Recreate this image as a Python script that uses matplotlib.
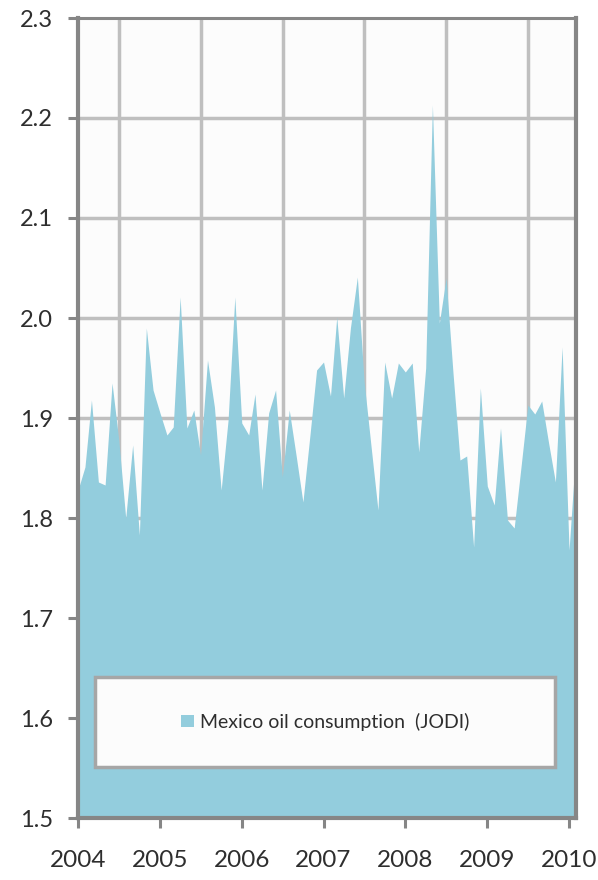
import matplotlib
matplotlib.use('Agg')
import matplotlib.pyplot as plt
import pandas as pd
from matplotlib.patches import Rectangle

plt.rcParams['font.family'] = ['Lato', 'DejaVu Sans']

# ---- data (million barrels/day, monthly, Jan 2004 .. Feb 2010) ----
start_month = '2004-01'
values = [
    1.828, 1.851, 1.918, 1.836, 1.833, 1.935, 1.878, 1.800, 1.873, 1.783, 1.990, 1.928,  # 2004
    1.905, 1.883, 1.891, 2.021, 1.890, 1.908, 1.863, 1.958, 1.911, 1.828, 1.898, 2.021,  # 2005
    1.895, 1.883, 1.924, 1.828, 1.905, 1.928, 1.841, 1.908, 1.862, 1.816, 1.882, 1.948,  # 2006
    1.956, 1.922, 2.001, 1.920, 1.990, 2.041, 1.937, 1.872, 1.808, 1.956, 1.920, 1.955,  # 2007
    1.946, 1.955, 1.866, 1.950, 2.213, 1.995, 2.040, 1.945, 1.858, 1.862, 1.771, 1.930,  # 2008
    1.832, 1.813, 1.890, 1.798, 1.790, 1.852, 1.913, 1.904, 1.917, 1.876, 1.836, 1.971,  # 2009
    1.768, 1.871,                                                                        # 2010
]
year_ticks = [2004, 2005, 2006, 2007, 2008, 2009, 2010]
year_labels = ['2004', '2005', '2006', '2007', '2008', '2009', '2010']
y_ticks = [1.5, 1.6, 1.7, 1.8, 1.9, 2.0, 2.1, 2.2, 2.3]
y_labels = ['1.5', '1.6', '1.7', '1.8', '1.9', '2.0', '2.1', '2.2', '2.3']
series_label = 'Mexico oil consumption  (JODI)'

months = pd.date_range(start_month, periods=len(values), freq='MS')

W, H = 598, 880
fig = plt.figure(figsize=(W / 100, H / 100), dpi=100)
fig.patch.set_facecolor('white')
ax = fig.add_axes([78 / W, 1 - 818 / H, 498 / W, 800 / H])
ax.set_facecolor('#fcfcfc')

area_color = '#93cddd'
grid_color = '#bfbfbf'
axis_color = '#868686'
text_color = '#2e2e2e'

ax.fill_between(months, values, y_ticks[0], color=area_color, lw=0, zorder=3,
                label=series_label)

ax.set_xlim(months[0], months[-1])
ax.set_ylim(y_ticks[0], y_ticks[-1])

# gridlines (under the area)
for yv in y_ticks[1:-1]:
    ax.axhline(yv, color=grid_color, lw=2.5, zorder=1)
for yr in year_ticks[:-1]:
    ax.axvline(pd.Timestamp(f'{yr}-07-02'), color=grid_color, lw=2.5, zorder=1)

ax.set_yticks(y_ticks)
ax.set_yticklabels(y_labels)
ax.set_xticks([pd.Timestamp(f'{yr}-01-01') for yr in year_ticks])
ax.set_xticklabels(year_labels)

ax.tick_params(axis='y', direction='out', length=7, width=2.2, color=axis_color,
               pad=11, labelsize=17, labelcolor=text_color)
ax.tick_params(axis='x', direction='out', length=7, width=2.2, color=axis_color,
               pad=16, labelsize=17.5, labelcolor=text_color)

for side in ['left', 'bottom', 'right']:
    ax.spines[side].set_color(axis_color)
    ax.spines[side].set_linewidth(3)
    ax.spines[side].set_zorder(4)
ax.spines['top'].set_color(axis_color)
ax.spines['top'].set_linewidth(2.2)
ax.spines['top'].set_zorder(4)

# legend box
x0, x1 = (95 - 78) / 498, (555 - 78) / 498
y0, y1 = (818 - 767) / 800, (818 - 677) / 800
box = Rectangle((x0, y0), x1 - x0, y1 - y0, transform=ax.transAxes,
                facecolor='#fcfcfc', edgecolor='#a6a6a6', lw=2.5, zorder=5)
ax.add_patch(box)
leg = ax.legend(loc='center', bbox_to_anchor=((x0 + x1) / 2, (y0 + y1) / 2),
                bbox_transform=ax.transAxes, frameon=False, fontsize=14,
                handlelength=0.7, handleheight=0.55, handletextpad=0.3,
                labelcolor=text_color)
leg.set_zorder(6)

fig.savefig('out.png', dpi=100)
